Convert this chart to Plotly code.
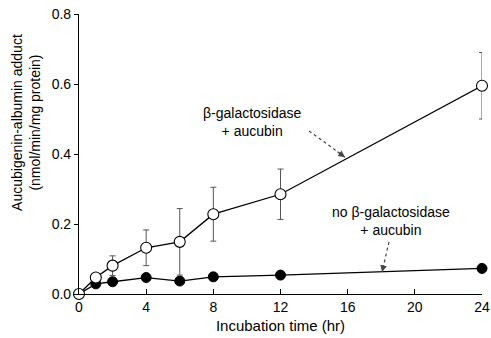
import plotly.graph_objects as go

hours = [0, 1, 2, 4, 6, 8, 12, 24]
with_enzyme = [0.0, 0.047, 0.081, 0.132, 0.149, 0.228, 0.285, 0.595]
with_enzyme_err = [0.0, 0.008, 0.028, 0.051, 0.095, 0.077, 0.072, 0.095]
no_enzyme = [0.0, 0.029, 0.035, 0.047, 0.037, 0.049, 0.054, 0.073]
no_enzyme_err = [0.0, 0.004, 0.005, 0.005, 0.005, 0.006, 0.006, 0.012]

x_ticks = [0, 4, 8, 12, 16, 20, 24]
y_ticks = [0.0, 0.2, 0.4, 0.6, 0.8]
y_ticklabels = ["0.0", "0.2", "0.4", "0.6", "0.8"]

FONT = "Liberation Sans, Arial, sans-serif"

fig = go.Figure()
fig.add_trace(go.Scatter(
    x=hours, y=no_enzyme, mode="lines+markers",
    line=dict(color="black", width=1.3),
    marker=dict(symbol="circle", size=10, color="black", line=dict(color="black", width=1)),
    error_y=dict(type="data", array=no_enzyme_err, color="#555", thickness=1, width=3),
    cliponaxis=False, showlegend=False,
))
fig.add_trace(go.Scatter(
    x=hours, y=with_enzyme, mode="lines+markers",
    line=dict(color="black", width=1.3),
    marker=dict(symbol="circle", size=11, color="white", line=dict(color="black", width=1.1)),
    error_y=dict(type="data", array=with_enzyme_err, color="#555", thickness=1, width=3),
    cliponaxis=False, showlegend=False,
))

# dotted arrow shafts
arrows = [((13.70, 0.466), (15.84, 0.391)), ((18.46, 0.149), (18.05, 0.063))]
for (x0, y0), (x1, y1) in arrows:
    fig.add_shape(type="line", xref="x", yref="y", x0=x0, y0=y0, x1=x1, y1=y1,
                  line=dict(color="#444", width=1.2, dash="dot"))
    fig.add_annotation(x=x1, y=y1, ax=x1 - (x1 - x0) * 0.25, ay=y1 - (y1 - y0) * 0.25,
                       xref="x", yref="y", axref="x", ayref="y", text="",
                       showarrow=True, arrowhead=2, arrowsize=1.1, arrowwidth=1.2,
                       arrowcolor="#444", standoff=0)

fig.add_annotation(x=10.35, y=0.491, xref="x", yref="y", text="β-galactosidase<br>+ aucubin",
                   showarrow=False, font=dict(family=FONT, size=14, color="black"), align="center")
fig.add_annotation(x=18.58, y=0.209, xref="x", yref="y", text="no β-galactosidase<br>+ aucubin",
                   showarrow=False, font=dict(family=FONT, size=14, color="black"), align="center")

fig.add_annotation(x=-0.132, y=0.614, xref="paper", yref="paper", xanchor="center", yanchor="middle",
                   text="Aucubigenin-albumin adduct<br>(nmol/min/mg protein)",
                   textangle=-90, showarrow=False, align="center",
                   font=dict(family=FONT, size=14, color="black"))

fig.update_layout(
    width=491, height=338,
    margin=dict(l=79, r=9, t=14, b=44),
    paper_bgcolor="white", plot_bgcolor="white",
    font=dict(family=FONT, size=14, color="black"),
    xaxis=dict(range=[0, 24], tickvals=x_ticks, ticks="inside", ticklen=5, tickcolor="black",
               showline=True, linecolor="black", linewidth=1.2, showgrid=False, zeroline=False,
               automargin=False, ticklabeloverflow="allow",
               title=dict(text="Incubation time (hr)", standoff=6, font=dict(size=15))),
    yaxis=dict(range=[0, 0.8], tickvals=y_ticks, ticktext=y_ticklabels, ticks="outside",
               ticklen=4, tickcolor="black", showline=True, linecolor="black", linewidth=1.2,
               showgrid=False, zeroline=False, automargin=False, ticklabeloverflow="allow"),
)

# remove the default 8px page margin so the 491x338 figure fills the window exactly
fig.write_html("out.html", config={"displayModeBar": False},
               post_script="document.body.style.margin='0';document.body.style.overflow='hidden';")
